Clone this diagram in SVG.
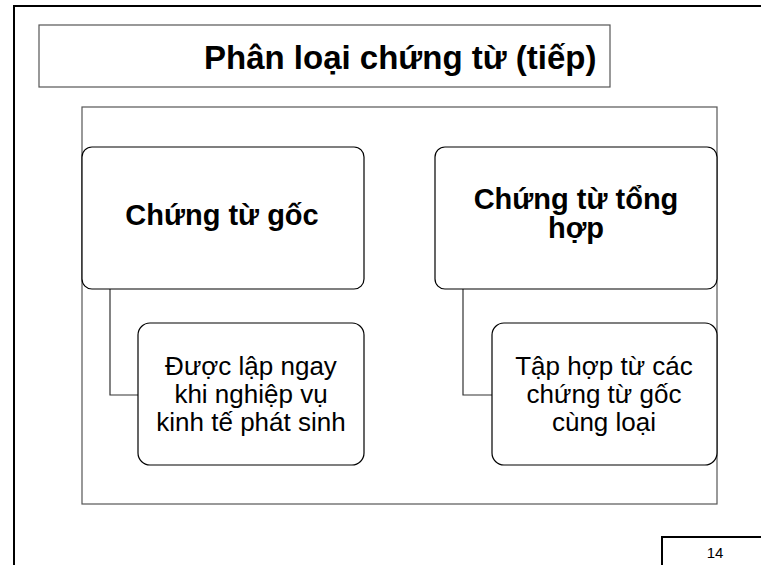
<svg xmlns="http://www.w3.org/2000/svg" width="761" height="565" viewBox="0 0 761 565">
<style>
.frame{fill:none;stroke:#000;stroke-width:2}
.gray{fill:#fff;stroke:#555;stroke-width:1.2}
.box{fill:#fff;stroke:#000;stroke-width:1.2}
.conn{fill:none;stroke:#333;stroke-width:1.2}
.t{font-family:"Liberation Sans",Arial,sans-serif;fill:#000;text-anchor:middle}
.s{text-anchor:start}
.b{font-weight:bold}
</style>
<rect width="761" height="565" fill="#fff"/>
<path class="frame" d="M14 565 V6 H761"/>
<g id="title">
<rect class="gray" x="39" y="25" width="571" height="62"/>
<text class="t b s" x="204" y="69" font-size="33">Phân loại chứng từ (tiếp)</text>
</g>
<rect id="content" class="gray" x="82" y="107" width="635" height="397"/>
<g id="connectors">
<path class="conn" d="M110 289 V395 H138"/>
<path class="conn" d="M463 289 V395 H492"/>
</g>
<g id="n1">
<rect class="box" x="82" y="147" width="282" height="142" rx="10"/>
<text class="t b" x="222" y="225" font-size="29">Chứng từ gốc</text>
</g>
<g id="n2">
<rect class="box" x="138" y="323" width="226" height="142" rx="12"/>
<text class="t" font-size="26"><tspan x="251" y="375">Được lập ngay</tspan><tspan x="251" y="403">khi nghiệp vụ</tspan><tspan x="251" y="431">kinh tế phát sinh</tspan></text>
</g>
<g id="n3">
<rect class="box" x="435" y="147" width="282" height="142" rx="10"/>
<text class="t b" font-size="29"><tspan x="576" y="209">Chứng từ tổng</tspan><tspan x="576" y="238">hợp</tspan></text>
</g>
<g id="n4">
<rect class="box" x="492" y="323" width="225" height="142" rx="12"/>
<text class="t" font-size="26"><tspan x="604" y="375">Tập hợp từ các</tspan><tspan x="604" y="403">chứng từ gốc</tspan><tspan x="604" y="431">cùng loại</tspan></text>
</g>
<g id="page">
<path class="frame" d="M662 565 V537 H761"/>
<text class="t" x="715" y="558" font-size="15">14</text>
</g>
</svg>
